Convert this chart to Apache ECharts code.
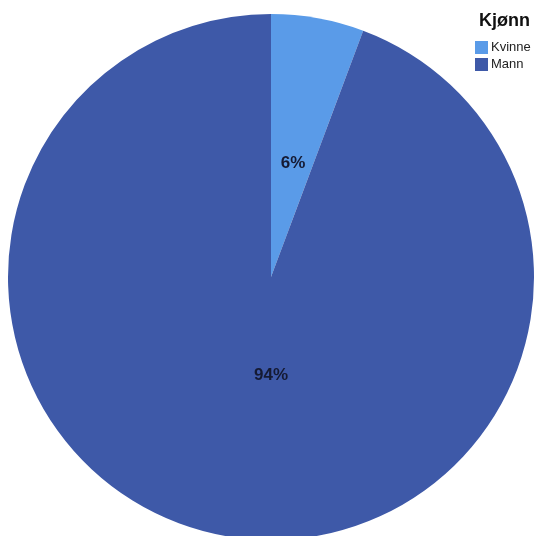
<!DOCTYPE html>
<html>
<head>
<meta charset="utf-8">
<script src="https://cdn.jsdelivr.net/npm/echarts@6/dist/echarts.min.js"></script>
<style>
  html, body { margin: 0; padding: 0; background: #ffffff; }
  #chart { width: 534px; height: 536px; }
</style>
</head>
<body>
<div id="chart"></div>
<script>
// Share of respondents by gender
const categories = ['Kvinne', 'Mann'];
const shares = [5.7, 94.3];
const colors = ['#5a9be8', '#3e59a8'];
const labelOffsets = [[-2, 19], [24, -34]];

const chart = echarts.init(document.getElementById('chart'), null, { renderer: 'canvas' });

chart.setOption({
  animation: false,
  backgroundColor: '#ffffff',
  title: {
    text: 'Kjønn',
    left: 474,
    top: 7,
    textStyle: { fontFamily: 'Arial, Liberation Sans, sans-serif', fontSize: 18, fontWeight: 'bold', color: '#111111' }
  },
  legend: {
    orient: 'vertical',
    left: 470,
    top: 36,
    itemWidth: 13,
    itemHeight: 13,
    itemGap: 4,
    icon: 'rect',
    textStyle: { fontFamily: 'Arial, Liberation Sans, sans-serif', fontSize: 13, color: '#222222', padding: [0, 0, 0, -2] },
    data: categories
  },
  series: [{
    type: 'pie',
    center: [271, 277],
    radius: 263,
    startAngle: 90,
    clockwise: true,
    silent: true,
    label: {
      show: true,
      position: 'inside',
      fontFamily: 'Arial, Liberation Sans, sans-serif',
      fontSize: 17,
      fontWeight: 'bold',
      color: '#151a33',
      formatter: p => Math.round(p.percent) + '%'
    },
    labelLine: { show: false },
    data: categories.map((name, i) => ({
      name,
      value: shares[i],
      itemStyle: { color: colors[i] },
      label: { offset: labelOffsets[i] }
    }))
  }]
});
</script>
</body>
</html>
